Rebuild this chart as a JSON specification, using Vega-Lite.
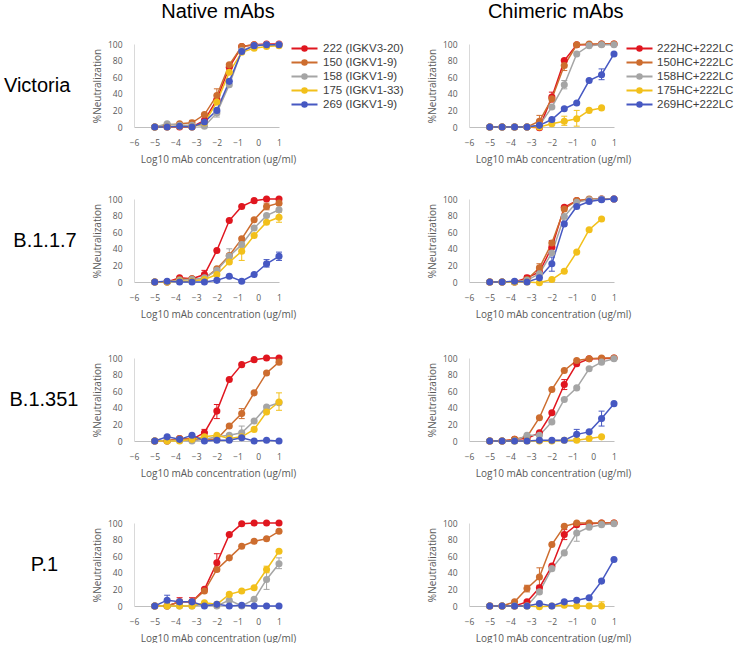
{
"$schema":"https://vega.github.io/schema/vega-lite/v6.json",
"background":"white",
"padding":{"left":3,"top":2,"right":0,"bottom":0},
"config":{
 "view":{"stroke":null},
 "axis":{"labelFont":"Open Sans","labelFontSize":8.5,"labelColor":"#595959","titleFont":"Open Sans","titleFontSize":10,"titleFontWeight":"normal","titleColor":"#595959","ticks":false,"tickSize":0,"grid":false,"labelFlush":false,"labelOverlap":false},
 "axisX":{"domainColor":"#bfbfbf","labelPadding":11.5,"titlePadding":7,"titleX":84},
 "axisY":{"domainColor":"#d9d9d9","labelPadding":12,"titlePadding":5},
 "title":{"font":"Liberation Sans","fontSize":20,"fontWeight":"normal","color":"#000000"}
},
"datasets":{
"pts":[
{"panel":"NV","mab":"222","x":-5,"y":0},{"panel":"NV","mab":"222","x":-4.4,"y":0},{"panel":"NV","mab":"222","x":-3.8,"y":0},{"panel":"NV","mab":"222","x":-3.2,"y":0},{"panel":"NV","mab":"222","x":-2.6,"y":8},{"panel":"NV","mab":"222","x":-2,"y":33},{"panel":"NV","mab":"222","x":-1.4,"y":72},{"panel":"NV","mab":"222","x":-0.8,"y":97},{"panel":"NV","mab":"222","x":-0.2,"y":99},{"panel":"NV","mab":"222","x":0.4,"y":100},{"panel":"NV","mab":"222","x":1,"y":100},
{"panel":"NV","mab":"150","x":-5,"y":0},{"panel":"NV","mab":"150","x":-4.4,"y":2},{"panel":"NV","mab":"150","x":-3.8,"y":4},{"panel":"NV","mab":"150","x":-3.2,"y":5},{"panel":"NV","mab":"150","x":-2.6,"y":15},{"panel":"NV","mab":"150","x":-2,"y":38},{"panel":"NV","mab":"150","x":-1.4,"y":75},{"panel":"NV","mab":"150","x":-0.8,"y":97},{"panel":"NV","mab":"150","x":-0.2,"y":99},{"panel":"NV","mab":"150","x":0.4,"y":99},{"panel":"NV","mab":"150","x":1,"y":99},
{"panel":"NV","mab":"158","x":-5,"y":0},{"panel":"NV","mab":"158","x":-4.4,"y":4},{"panel":"NV","mab":"158","x":-3.8,"y":2},{"panel":"NV","mab":"158","x":-3.2,"y":2},{"panel":"NV","mab":"158","x":-2.6,"y":1},{"panel":"NV","mab":"158","x":-2,"y":17},{"panel":"NV","mab":"158","x":-1.4,"y":51},{"panel":"NV","mab":"158","x":-0.8,"y":92},{"panel":"NV","mab":"158","x":-0.2,"y":98},{"panel":"NV","mab":"158","x":0.4,"y":99},{"panel":"NV","mab":"158","x":1,"y":99},
{"panel":"NV","mab":"175","x":-5,"y":0},{"panel":"NV","mab":"175","x":-4.4,"y":0},{"panel":"NV","mab":"175","x":-3.8,"y":1},{"panel":"NV","mab":"175","x":-3.2,"y":0},{"panel":"NV","mab":"175","x":-2.6,"y":5},{"panel":"NV","mab":"175","x":-2,"y":30},{"panel":"NV","mab":"175","x":-1.4,"y":66},{"panel":"NV","mab":"175","x":-0.8,"y":90},{"panel":"NV","mab":"175","x":-0.2,"y":95},{"panel":"NV","mab":"175","x":0.4,"y":97},{"panel":"NV","mab":"175","x":1,"y":98},
{"panel":"NV","mab":"269","x":-5,"y":0},{"panel":"NV","mab":"269","x":-4.4,"y":0},{"panel":"NV","mab":"269","x":-3.8,"y":1},{"panel":"NV","mab":"269","x":-3.2,"y":0},{"panel":"NV","mab":"269","x":-2.6,"y":6},{"panel":"NV","mab":"269","x":-2,"y":20},{"panel":"NV","mab":"269","x":-1.4,"y":55},{"panel":"NV","mab":"269","x":-0.8,"y":91},{"panel":"NV","mab":"269","x":-0.2,"y":98},{"panel":"NV","mab":"269","x":0.4,"y":99},{"panel":"NV","mab":"269","x":1,"y":99},

{"panel":"CV","mab":"222","x":-5,"y":0},{"panel":"CV","mab":"222","x":-4.4,"y":0},{"panel":"CV","mab":"222","x":-3.8,"y":0},{"panel":"CV","mab":"222","x":-3.2,"y":0},{"panel":"CV","mab":"222","x":-2.6,"y":-1},{"panel":"CV","mab":"222","x":-2,"y":36},{"panel":"CV","mab":"222","x":-1.4,"y":80},{"panel":"CV","mab":"222","x":-0.8,"y":99},{"panel":"CV","mab":"222","x":-0.2,"y":99},{"panel":"CV","mab":"222","x":0.4,"y":100},{"panel":"CV","mab":"222","x":1,"y":100},
{"panel":"CV","mab":"150","x":-5,"y":0},{"panel":"CV","mab":"150","x":-4.4,"y":0},{"panel":"CV","mab":"150","x":-3.8,"y":0},{"panel":"CV","mab":"150","x":-3.2,"y":0},{"panel":"CV","mab":"150","x":-2.6,"y":7},{"panel":"CV","mab":"150","x":-2,"y":34},{"panel":"CV","mab":"150","x":-1.4,"y":74},{"panel":"CV","mab":"150","x":-0.8,"y":99},{"panel":"CV","mab":"150","x":-0.2,"y":100},{"panel":"CV","mab":"150","x":0.4,"y":100},{"panel":"CV","mab":"150","x":1,"y":100},
{"panel":"CV","mab":"158","x":-5,"y":0},{"panel":"CV","mab":"158","x":-4.4,"y":0},{"panel":"CV","mab":"158","x":-3.8,"y":0},{"panel":"CV","mab":"158","x":-3.2,"y":0},{"panel":"CV","mab":"158","x":-2.6,"y":2},{"panel":"CV","mab":"158","x":-2,"y":24},{"panel":"CV","mab":"158","x":-1.4,"y":51},{"panel":"CV","mab":"158","x":-0.8,"y":88},{"panel":"CV","mab":"158","x":-0.2,"y":98},{"panel":"CV","mab":"158","x":0.4,"y":99},{"panel":"CV","mab":"158","x":1,"y":99},
{"panel":"CV","mab":"175","x":-5,"y":0},{"panel":"CV","mab":"175","x":-4.4,"y":0},{"panel":"CV","mab":"175","x":-3.8,"y":0},{"panel":"CV","mab":"175","x":-3.2,"y":0},{"panel":"CV","mab":"175","x":-2.6,"y":0},{"panel":"CV","mab":"175","x":-2,"y":4},{"panel":"CV","mab":"175","x":-1.4,"y":7},{"panel":"CV","mab":"175","x":-0.8,"y":10},{"panel":"CV","mab":"175","x":-0.2,"y":20},{"panel":"CV","mab":"175","x":0.4,"y":23},
{"panel":"CV","mab":"269","x":-5,"y":0},{"panel":"CV","mab":"269","x":-4.4,"y":0},{"panel":"CV","mab":"269","x":-3.8,"y":0},{"panel":"CV","mab":"269","x":-3.2,"y":0},{"panel":"CV","mab":"269","x":-2.6,"y":2},{"panel":"CV","mab":"269","x":-2,"y":9},{"panel":"CV","mab":"269","x":-1.4,"y":22},{"panel":"CV","mab":"269","x":-0.8,"y":29},{"panel":"CV","mab":"269","x":-0.2,"y":56},{"panel":"CV","mab":"269","x":0.4,"y":63},{"panel":"CV","mab":"269","x":1,"y":88},

{"panel":"NB7","mab":"222","x":-5,"y":0},{"panel":"NB7","mab":"222","x":-4.4,"y":0},{"panel":"NB7","mab":"222","x":-3.8,"y":5},{"panel":"NB7","mab":"222","x":-3.2,"y":4},{"panel":"NB7","mab":"222","x":-2.6,"y":9},{"panel":"NB7","mab":"222","x":-2,"y":38},{"panel":"NB7","mab":"222","x":-1.4,"y":74},{"panel":"NB7","mab":"222","x":-0.8,"y":91},{"panel":"NB7","mab":"222","x":-0.2,"y":98},{"panel":"NB7","mab":"222","x":0.4,"y":100},{"panel":"NB7","mab":"222","x":1,"y":100},
{"panel":"NB7","mab":"150","x":-5,"y":0},{"panel":"NB7","mab":"150","x":-4.4,"y":0},{"panel":"NB7","mab":"150","x":-3.8,"y":3},{"panel":"NB7","mab":"150","x":-3.2,"y":4},{"panel":"NB7","mab":"150","x":-2.6,"y":4},{"panel":"NB7","mab":"150","x":-2,"y":16},{"panel":"NB7","mab":"150","x":-1.4,"y":32},{"panel":"NB7","mab":"150","x":-0.8,"y":52},{"panel":"NB7","mab":"150","x":-0.2,"y":75},{"panel":"NB7","mab":"150","x":0.4,"y":91},{"panel":"NB7","mab":"150","x":1,"y":95},
{"panel":"NB7","mab":"158","x":-5,"y":0},{"panel":"NB7","mab":"158","x":-4.4,"y":0},{"panel":"NB7","mab":"158","x":-3.8,"y":2},{"panel":"NB7","mab":"158","x":-3.2,"y":3},{"panel":"NB7","mab":"158","x":-2.6,"y":5},{"panel":"NB7","mab":"158","x":-2,"y":14},{"panel":"NB7","mab":"158","x":-1.4,"y":31},{"panel":"NB7","mab":"158","x":-0.8,"y":45},{"panel":"NB7","mab":"158","x":-0.2,"y":65},{"panel":"NB7","mab":"158","x":0.4,"y":80},{"panel":"NB7","mab":"158","x":1,"y":87},
{"panel":"NB7","mab":"175","x":-5,"y":0},{"panel":"NB7","mab":"175","x":-4.4,"y":0},{"panel":"NB7","mab":"175","x":-3.8,"y":1},{"panel":"NB7","mab":"175","x":-3.2,"y":1},{"panel":"NB7","mab":"175","x":-2.6,"y":3},{"panel":"NB7","mab":"175","x":-2,"y":9},{"panel":"NB7","mab":"175","x":-1.4,"y":24},{"panel":"NB7","mab":"175","x":-0.8,"y":37},{"panel":"NB7","mab":"175","x":-0.2,"y":56},{"panel":"NB7","mab":"175","x":0.4,"y":72},{"panel":"NB7","mab":"175","x":1,"y":78},
{"panel":"NB7","mab":"269","x":-5,"y":0},{"panel":"NB7","mab":"269","x":-4.4,"y":1},{"panel":"NB7","mab":"269","x":-3.8,"y":0},{"panel":"NB7","mab":"269","x":-3.2,"y":0},{"panel":"NB7","mab":"269","x":-2.6,"y":0},{"panel":"NB7","mab":"269","x":-2,"y":2},{"panel":"NB7","mab":"269","x":-1.4,"y":7},{"panel":"NB7","mab":"269","x":-0.8,"y":1},{"panel":"NB7","mab":"269","x":-0.2,"y":9},{"panel":"NB7","mab":"269","x":0.4,"y":22},{"panel":"NB7","mab":"269","x":1,"y":31},

{"panel":"CB7","mab":"222","x":-5,"y":0},{"panel":"CB7","mab":"222","x":-4.4,"y":0},{"panel":"CB7","mab":"222","x":-3.8,"y":0},{"panel":"CB7","mab":"222","x":-3.2,"y":5},{"panel":"CB7","mab":"222","x":-2.6,"y":12},{"panel":"CB7","mab":"222","x":-2,"y":42},{"panel":"CB7","mab":"222","x":-1.4,"y":90},{"panel":"CB7","mab":"222","x":-0.8,"y":98},{"panel":"CB7","mab":"222","x":-0.2,"y":99},{"panel":"CB7","mab":"222","x":0.4,"y":100},{"panel":"CB7","mab":"222","x":1,"y":100},
{"panel":"CB7","mab":"150","x":-5,"y":0},{"panel":"CB7","mab":"150","x":-4.4,"y":0},{"panel":"CB7","mab":"150","x":-3.8,"y":0},{"panel":"CB7","mab":"150","x":-3.2,"y":3},{"panel":"CB7","mab":"150","x":-2.6,"y":17},{"panel":"CB7","mab":"150","x":-2,"y":47},{"panel":"CB7","mab":"150","x":-1.4,"y":88},{"panel":"CB7","mab":"150","x":-0.8,"y":98},{"panel":"CB7","mab":"150","x":-0.2,"y":100},{"panel":"CB7","mab":"150","x":0.4,"y":100},{"panel":"CB7","mab":"150","x":1,"y":100},
{"panel":"CB7","mab":"158","x":-5,"y":0},{"panel":"CB7","mab":"158","x":-4.4,"y":0},{"panel":"CB7","mab":"158","x":-3.8,"y":0},{"panel":"CB7","mab":"158","x":-3.2,"y":2},{"panel":"CB7","mab":"158","x":-2.6,"y":10},{"panel":"CB7","mab":"158","x":-2,"y":35},{"panel":"CB7","mab":"158","x":-1.4,"y":79},{"panel":"CB7","mab":"158","x":-0.8,"y":96},{"panel":"CB7","mab":"158","x":-0.2,"y":99},{"panel":"CB7","mab":"158","x":0.4,"y":100},{"panel":"CB7","mab":"158","x":1,"y":100},
{"panel":"CB7","mab":"175","x":-5,"y":0},{"panel":"CB7","mab":"175","x":-4.4,"y":0},{"panel":"CB7","mab":"175","x":-3.8,"y":0},{"panel":"CB7","mab":"175","x":-3.2,"y":0},{"panel":"CB7","mab":"175","x":-2.6,"y":-1},{"panel":"CB7","mab":"175","x":-2,"y":3},{"panel":"CB7","mab":"175","x":-1.4,"y":13},{"panel":"CB7","mab":"175","x":-0.8,"y":36},{"panel":"CB7","mab":"175","x":-0.2,"y":63},{"panel":"CB7","mab":"175","x":0.4,"y":76},
{"panel":"CB7","mab":"269","x":-5,"y":0},{"panel":"CB7","mab":"269","x":-4.4,"y":0},{"panel":"CB7","mab":"269","x":-3.8,"y":1},{"panel":"CB7","mab":"269","x":-3.2,"y":0},{"panel":"CB7","mab":"269","x":-2.6,"y":5},{"panel":"CB7","mab":"269","x":-2,"y":22},{"panel":"CB7","mab":"269","x":-1.4,"y":70},{"panel":"CB7","mab":"269","x":-0.8,"y":91},{"panel":"CB7","mab":"269","x":-0.2,"y":97},{"panel":"CB7","mab":"269","x":0.4,"y":99},{"panel":"CB7","mab":"269","x":1,"y":100},

{"panel":"NB3","mab":"222","x":-5,"y":0},{"panel":"NB3","mab":"222","x":-4.4,"y":0},{"panel":"NB3","mab":"222","x":-3.8,"y":3},{"panel":"NB3","mab":"222","x":-3.2,"y":2},{"panel":"NB3","mab":"222","x":-2.6,"y":10},{"panel":"NB3","mab":"222","x":-2,"y":36},{"panel":"NB3","mab":"222","x":-1.4,"y":74},{"panel":"NB3","mab":"222","x":-0.8,"y":92},{"panel":"NB3","mab":"222","x":-0.2,"y":98},{"panel":"NB3","mab":"222","x":0.4,"y":100},{"panel":"NB3","mab":"222","x":1,"y":100},
{"panel":"NB3","mab":"150","x":-5,"y":0},{"panel":"NB3","mab":"150","x":-4.4,"y":0},{"panel":"NB3","mab":"150","x":-3.8,"y":3},{"panel":"NB3","mab":"150","x":-3.2,"y":2},{"panel":"NB3","mab":"150","x":-2.6,"y":2},{"panel":"NB3","mab":"150","x":-2,"y":2},{"panel":"NB3","mab":"150","x":-1.4,"y":18},{"panel":"NB3","mab":"150","x":-0.8,"y":33},{"panel":"NB3","mab":"150","x":-0.2,"y":58},{"panel":"NB3","mab":"150","x":0.4,"y":82},{"panel":"NB3","mab":"150","x":1,"y":95},
{"panel":"NB3","mab":"158","x":-5,"y":0},{"panel":"NB3","mab":"158","x":-4.4,"y":0},{"panel":"NB3","mab":"158","x":-3.8,"y":1},{"panel":"NB3","mab":"158","x":-3.2,"y":0},{"panel":"NB3","mab":"158","x":-2.6,"y":2},{"panel":"NB3","mab":"158","x":-2,"y":5},{"panel":"NB3","mab":"158","x":-1.4,"y":7},{"panel":"NB3","mab":"158","x":-0.8,"y":10},{"panel":"NB3","mab":"158","x":-0.2,"y":24},{"panel":"NB3","mab":"158","x":0.4,"y":41},{"panel":"NB3","mab":"158","x":1,"y":46},
{"panel":"NB3","mab":"175","x":-5,"y":0},{"panel":"NB3","mab":"175","x":-4.4,"y":0},{"panel":"NB3","mab":"175","x":-3.8,"y":0},{"panel":"NB3","mab":"175","x":-3.2,"y":2},{"panel":"NB3","mab":"175","x":-2.6,"y":5},{"panel":"NB3","mab":"175","x":-2,"y":7},{"panel":"NB3","mab":"175","x":-1.4,"y":3},{"panel":"NB3","mab":"175","x":-0.8,"y":5},{"panel":"NB3","mab":"175","x":-0.2,"y":14},{"panel":"NB3","mab":"175","x":0.4,"y":35},{"panel":"NB3","mab":"175","x":1,"y":47},
{"panel":"NB3","mab":"269","x":-5,"y":0},{"panel":"NB3","mab":"269","x":-4.4,"y":5},{"panel":"NB3","mab":"269","x":-3.8,"y":2},{"panel":"NB3","mab":"269","x":-3.2,"y":7},{"panel":"NB3","mab":"269","x":-2.6,"y":0},{"panel":"NB3","mab":"269","x":-2,"y":1},{"panel":"NB3","mab":"269","x":-1.4,"y":1},{"panel":"NB3","mab":"269","x":-0.8,"y":4},{"panel":"NB3","mab":"269","x":-0.2,"y":0},{"panel":"NB3","mab":"269","x":0.4,"y":1},{"panel":"NB3","mab":"269","x":1,"y":0},

{"panel":"CB3","mab":"222","x":-5,"y":0},{"panel":"CB3","mab":"222","x":-4.4,"y":0},{"panel":"CB3","mab":"222","x":-3.8,"y":2},{"panel":"CB3","mab":"222","x":-3.2,"y":3},{"panel":"CB3","mab":"222","x":-2.6,"y":10},{"panel":"CB3","mab":"222","x":-2,"y":34},{"panel":"CB3","mab":"222","x":-1.4,"y":68},{"panel":"CB3","mab":"222","x":-0.8,"y":93},{"panel":"CB3","mab":"222","x":-0.2,"y":99},{"panel":"CB3","mab":"222","x":0.4,"y":99},{"panel":"CB3","mab":"222","x":1,"y":100},
{"panel":"CB3","mab":"150","x":-5,"y":0},{"panel":"CB3","mab":"150","x":-4.4,"y":0},{"panel":"CB3","mab":"150","x":-3.8,"y":2},{"panel":"CB3","mab":"150","x":-3.2,"y":5},{"panel":"CB3","mab":"150","x":-2.6,"y":28},{"panel":"CB3","mab":"150","x":-2,"y":62},{"panel":"CB3","mab":"150","x":-1.4,"y":85},{"panel":"CB3","mab":"150","x":-0.8,"y":97},{"panel":"CB3","mab":"150","x":-0.2,"y":99},{"panel":"CB3","mab":"150","x":0.4,"y":100},{"panel":"CB3","mab":"150","x":1,"y":100},
{"panel":"CB3","mab":"158","x":-5,"y":0},{"panel":"CB3","mab":"158","x":-4.4,"y":0},{"panel":"CB3","mab":"158","x":-3.8,"y":0},{"panel":"CB3","mab":"158","x":-3.2,"y":7},{"panel":"CB3","mab":"158","x":-2.6,"y":7},{"panel":"CB3","mab":"158","x":-2,"y":23},{"panel":"CB3","mab":"158","x":-1.4,"y":50},{"panel":"CB3","mab":"158","x":-0.8,"y":64},{"panel":"CB3","mab":"158","x":-0.2,"y":87},{"panel":"CB3","mab":"158","x":0.4,"y":95},{"panel":"CB3","mab":"158","x":1,"y":99},
{"panel":"CB3","mab":"175","x":-5,"y":0},{"panel":"CB3","mab":"175","x":-4.4,"y":0},{"panel":"CB3","mab":"175","x":-3.8,"y":0},{"panel":"CB3","mab":"175","x":-3.2,"y":0},{"panel":"CB3","mab":"175","x":-2.6,"y":0},{"panel":"CB3","mab":"175","x":-2,"y":0},{"panel":"CB3","mab":"175","x":-1.4,"y":1},{"panel":"CB3","mab":"175","x":-0.8,"y":1},{"panel":"CB3","mab":"175","x":-0.2,"y":3},{"panel":"CB3","mab":"175","x":0.4,"y":5},
{"panel":"CB3","mab":"269","x":-5,"y":0},{"panel":"CB3","mab":"269","x":-4.4,"y":0},{"panel":"CB3","mab":"269","x":-3.8,"y":0},{"panel":"CB3","mab":"269","x":-3.2,"y":0},{"panel":"CB3","mab":"269","x":-2.6,"y":1},{"panel":"CB3","mab":"269","x":-2,"y":1},{"panel":"CB3","mab":"269","x":-1.4,"y":1},{"panel":"CB3","mab":"269","x":-0.8,"y":8},{"panel":"CB3","mab":"269","x":-0.2,"y":11},{"panel":"CB3","mab":"269","x":0.4,"y":27},{"panel":"CB3","mab":"269","x":1,"y":45},

{"panel":"NP","mab":"222","x":-5,"y":0},{"panel":"NP","mab":"222","x":-4.4,"y":0},{"panel":"NP","mab":"222","x":-3.8,"y":5},{"panel":"NP","mab":"222","x":-3.2,"y":5},{"panel":"NP","mab":"222","x":-2.6,"y":20},{"panel":"NP","mab":"222","x":-2,"y":52},{"panel":"NP","mab":"222","x":-1.4,"y":86},{"panel":"NP","mab":"222","x":-0.8,"y":99},{"panel":"NP","mab":"222","x":-0.2,"y":100},{"panel":"NP","mab":"222","x":0.4,"y":100},{"panel":"NP","mab":"222","x":1,"y":100},
{"panel":"NP","mab":"150","x":-5,"y":0},{"panel":"NP","mab":"150","x":-4.4,"y":0},{"panel":"NP","mab":"150","x":-3.8,"y":5},{"panel":"NP","mab":"150","x":-3.2,"y":5},{"panel":"NP","mab":"150","x":-2.6,"y":18},{"panel":"NP","mab":"150","x":-2,"y":44},{"panel":"NP","mab":"150","x":-1.4,"y":58},{"panel":"NP","mab":"150","x":-0.8,"y":72},{"panel":"NP","mab":"150","x":-0.2,"y":78},{"panel":"NP","mab":"150","x":0.4,"y":81},{"panel":"NP","mab":"150","x":1,"y":90},
{"panel":"NP","mab":"158","x":-5,"y":0},{"panel":"NP","mab":"158","x":-4.4,"y":0},{"panel":"NP","mab":"158","x":-3.8,"y":0},{"panel":"NP","mab":"158","x":-3.2,"y":0},{"panel":"NP","mab":"158","x":-2.6,"y":2},{"panel":"NP","mab":"158","x":-2,"y":0},{"panel":"NP","mab":"158","x":-1.4,"y":7},{"panel":"NP","mab":"158","x":-0.8,"y":0},{"panel":"NP","mab":"158","x":-0.2,"y":8},{"panel":"NP","mab":"158","x":0.4,"y":32},{"panel":"NP","mab":"158","x":1,"y":51},
{"panel":"NP","mab":"175","x":-5,"y":0},{"panel":"NP","mab":"175","x":-4.4,"y":0},{"panel":"NP","mab":"175","x":-3.8,"y":0},{"panel":"NP","mab":"175","x":-3.2,"y":0},{"panel":"NP","mab":"175","x":-2.6,"y":4},{"panel":"NP","mab":"175","x":-2,"y":2},{"panel":"NP","mab":"175","x":-1.4,"y":14},{"panel":"NP","mab":"175","x":-0.8,"y":18},{"panel":"NP","mab":"175","x":-0.2,"y":22},{"panel":"NP","mab":"175","x":0.4,"y":44},{"panel":"NP","mab":"175","x":1,"y":66},
{"panel":"NP","mab":"269","x":-5,"y":0},{"panel":"NP","mab":"269","x":-4.4,"y":7},{"panel":"NP","mab":"269","x":-3.8,"y":5},{"panel":"NP","mab":"269","x":-3.2,"y":5},{"panel":"NP","mab":"269","x":-2.6,"y":0},{"panel":"NP","mab":"269","x":-2,"y":2},{"panel":"NP","mab":"269","x":-1.4,"y":0},{"panel":"NP","mab":"269","x":-0.8,"y":1},{"panel":"NP","mab":"269","x":-0.2,"y":0},{"panel":"NP","mab":"269","x":0.4,"y":0},{"panel":"NP","mab":"269","x":1,"y":0},

{"panel":"CP","mab":"222","x":-5,"y":0},{"panel":"CP","mab":"222","x":-4.4,"y":0},{"panel":"CP","mab":"222","x":-3.8,"y":0},{"panel":"CP","mab":"222","x":-3.2,"y":5},{"panel":"CP","mab":"222","x":-2.6,"y":22},{"panel":"CP","mab":"222","x":-2,"y":48},{"panel":"CP","mab":"222","x":-1.4,"y":86},{"panel":"CP","mab":"222","x":-0.8,"y":98},{"panel":"CP","mab":"222","x":-0.2,"y":99},{"panel":"CP","mab":"222","x":0.4,"y":100},{"panel":"CP","mab":"222","x":1,"y":100},
{"panel":"CP","mab":"150","x":-5,"y":0},{"panel":"CP","mab":"150","x":-4.4,"y":0},{"panel":"CP","mab":"150","x":-3.8,"y":5},{"panel":"CP","mab":"150","x":-3.2,"y":21},{"panel":"CP","mab":"150","x":-2.6,"y":35},{"panel":"CP","mab":"150","x":-2,"y":74},{"panel":"CP","mab":"150","x":-1.4,"y":96},{"panel":"CP","mab":"150","x":-0.8,"y":100},{"panel":"CP","mab":"150","x":-0.2,"y":100},{"panel":"CP","mab":"150","x":0.4,"y":100},{"panel":"CP","mab":"150","x":1,"y":100},
{"panel":"CP","mab":"158","x":-5,"y":0},{"panel":"CP","mab":"158","x":-4.4,"y":0},{"panel":"CP","mab":"158","x":-3.8,"y":0},{"panel":"CP","mab":"158","x":-3.2,"y":0},{"panel":"CP","mab":"158","x":-2.6,"y":17},{"panel":"CP","mab":"158","x":-2,"y":45},{"panel":"CP","mab":"158","x":-1.4,"y":64},{"panel":"CP","mab":"158","x":-0.8,"y":88},{"panel":"CP","mab":"158","x":-0.2,"y":95},{"panel":"CP","mab":"158","x":0.4,"y":98},{"panel":"CP","mab":"158","x":1,"y":99},
{"panel":"CP","mab":"175","x":-5,"y":0},{"panel":"CP","mab":"175","x":-4.4,"y":0},{"panel":"CP","mab":"175","x":-3.8,"y":0},{"panel":"CP","mab":"175","x":-3.2,"y":0},{"panel":"CP","mab":"175","x":-2.6,"y":-1},{"panel":"CP","mab":"175","x":-2,"y":0},{"panel":"CP","mab":"175","x":-1.4,"y":1},{"panel":"CP","mab":"175","x":-0.8,"y":0},{"panel":"CP","mab":"175","x":-0.2,"y":0},{"panel":"CP","mab":"175","x":0.4,"y":0},
{"panel":"CP","mab":"269","x":-5,"y":0},{"panel":"CP","mab":"269","x":-4.4,"y":0},{"panel":"CP","mab":"269","x":-3.8,"y":0},{"panel":"CP","mab":"269","x":-3.2,"y":0},{"panel":"CP","mab":"269","x":-2.6,"y":3},{"panel":"CP","mab":"269","x":-2,"y":0},{"panel":"CP","mab":"269","x":-1.4,"y":5},{"panel":"CP","mab":"269","x":-0.8,"y":7},{"panel":"CP","mab":"269","x":-0.2,"y":10},{"panel":"CP","mab":"269","x":0.4,"y":30},{"panel":"CP","mab":"269","x":1,"y":56}
],
"errs":[
{"panel":"NV","mab":"150","x":-2,"lo":30,"hi":46},{"panel":"NV","mab":"150","x":-3.2,"lo":2,"hi":8},{"panel":"NV","mab":"158","x":-2,"lo":12,"hi":22},
{"panel":"CV","mab":"150","x":-2.6,"lo":1,"hi":14},{"panel":"CV","mab":"222","x":-2,"lo":30,"hi":42},{"panel":"CV","mab":"158","x":-1.4,"lo":46,"hi":56},{"panel":"CV","mab":"175","x":-1.4,"lo":2,"hi":13},{"panel":"CV","mab":"175","x":-0.8,"lo":1,"hi":20},{"panel":"CV","mab":"269","x":0.4,"lo":57,"hi":70},{"panel":"CV","mab":"150","x":-1.4,"lo":68,"hi":80},
{"panel":"NB7","mab":"222","x":-2.6,"lo":4,"hi":14},{"panel":"NB7","mab":"158","x":-1.4,"lo":25,"hi":40},{"panel":"NB7","mab":"175","x":-0.8,"lo":26,"hi":47},{"panel":"NB7","mab":"269","x":0.4,"lo":18,"hi":27},{"panel":"NB7","mab":"269","x":1,"lo":26,"hi":36},{"panel":"NB7","mab":"175","x":1,"lo":72,"hi":84},{"panel":"NB7","mab":"150","x":0.4,"lo":87,"hi":95},
{"panel":"CB7","mab":"222","x":-3.2,"lo":2,"hi":8},{"panel":"CB7","mab":"150","x":-2.6,"lo":12,"hi":22},{"panel":"CB7","mab":"222","x":-2,"lo":36,"hi":50},{"panel":"CB7","mab":"269","x":-2,"lo":13,"hi":30},
{"panel":"NB3","mab":"222","x":-2,"lo":27,"hi":44},{"panel":"NB3","mab":"222","x":-2.6,"lo":5,"hi":14},{"panel":"NB3","mab":"150","x":-0.8,"lo":27,"hi":39},{"panel":"NB3","mab":"158","x":-0.8,"lo":3,"hi":18},{"panel":"NB3","mab":"175","x":1,"lo":37,"hi":58},
{"panel":"CB3","mab":"222","x":-1.4,"lo":62,"hi":74},{"panel":"CB3","mab":"269","x":-0.8,"lo":3,"hi":14},{"panel":"CB3","mab":"269","x":0.4,"lo":18,"hi":36},
{"panel":"NP","mab":"222","x":-2,"lo":42,"hi":63},{"panel":"NP","mab":"222","x":-3.8,"lo":1,"hi":10},{"panel":"NP","mab":"222","x":-3.2,"lo":1,"hi":10},{"panel":"NP","mab":"269","x":-4.4,"lo":1,"hi":13},{"panel":"NP","mab":"158","x":0.4,"lo":20,"hi":44},{"panel":"NP","mab":"158","x":1,"lo":45,"hi":58},{"panel":"NP","mab":"175","x":0.4,"lo":40,"hi":48},
{"panel":"CP","mab":"150","x":-2.6,"lo":25,"hi":46},{"panel":"CP","mab":"150","x":-3.2,"lo":17,"hi":25},{"panel":"CP","mab":"222","x":-1.4,"lo":80,"hi":92},{"panel":"CP","mab":"158","x":-0.8,"lo":78,"hi":100},{"panel":"CP","mab":"175","x":0.4,"lo":0,"hi":5}
]
},
"spacing":23,
"resolve":{"scale":{"color":"independent"},"legend":{"color":"independent"}},
"hconcat":[
{
"title":{"text":"Native mAbs","anchor":"middle","offset":18,"dx":14},
"spacing":35,
"resolve":{"scale":{"color":"independent"},"legend":{"color":"independent"}},
"vconcat":[
{"spacing":31,"resolve":{"scale":{"color":"independent"},"legend":{"color":"independent"}},"vconcat":[
{"width":145,"height":83,
"title":{"text":"Victoria","orient":"left","angle":0,"align":"center","baseline":"middle","anchor":"middle","offset":-11},
"encoding":{
"x":{"field":"x","type":"quantitative","scale":{"domain":[-6,1],"nice":false},"axis":{"values":[-6,-5,-4,-3,-2,-1,0,1],"title":"Log10 mAb concentration (ug/ml)"}},
"y":{"field":"y","type":"quantitative","scale":{"domain":[0,100],"nice":false},"axis":{"values":[0,20,40,60,80,100],"title":"%Neutralization"}},
"color":{"field":"mab","type":"nominal","scale":{"domain":["222","150","158","175","269"],"range":["#E0161F","#CD6D2F","#A5A5A5","#F2C01B","#4658C2"]},
"legend":{"title":null,"orient":"none","legendX":163,"legendY":-3,"padding":0,"labelFont":"Liberation Sans","labelFontSize":11.5,"labelColor":"#404040","symbolType":"M-2,0H2M-0.35,0A0.35,0.35,0,1,1,0.35,0A0.35,0.35,0,1,1,-0.35,0M-0.15,0A0.15,0.15,0,1,1,0.15,0A0.15,0.15,0,1,1,-0.15,0","symbolSize":169,"symbolStrokeWidth":2,"symbolOpacity":1,"rowPadding":0,"labelOffset":11,"labelExpr":"datum.label=='222'?'222 (IGKV3-20)':datum.label=='175'?'175 (IGKV1-33)':datum.label+' (IGKV1-9)'"}}
},
"layer":[
{"data":{"name":"errs"},"transform":[{"filter":"datum.panel=='NV'"}],"mark":{"type":"rule","strokeWidth":1},"encoding":{"y":{"field":"lo","type":"quantitative","scale":{"domain":[0,100],"nice":false}},"y2":{"field":"hi"}}},
{"data":{"name":"errs"},"transform":[{"filter":"datum.panel=='NV'"}],"mark":{"type":"tick","orient":"horizontal","size":6,"thickness":1,"opacity":1},"encoding":{"y":{"field":"hi","type":"quantitative","scale":{"domain":[0,100],"nice":false}}}},
{"data":{"name":"errs"},"transform":[{"filter":"datum.panel=='NV'"}],"mark":{"type":"tick","orient":"horizontal","size":6,"thickness":1,"opacity":1},"encoding":{"y":{"field":"lo","type":"quantitative","scale":{"domain":[0,100],"nice":false}}}},
{"data":{"name":"pts"},"transform":[{"filter":"datum.panel=='NV'"}],"mark":{"type":"line","strokeWidth":1.5},"encoding":{}},
{"data":{"name":"pts"},"transform":[{"filter":"datum.panel=='NV'"}],"mark":{"type":"point","filled":true,"size":50,"opacity":1},"encoding":{}}
]},
{"width":145,"height":83,
"title":{"text":"B.1.1.7","orient":"left","angle":0,"align":"center","baseline":"middle","anchor":"middle","offset":-16},
"encoding":{
"x":{"field":"x","type":"quantitative","scale":{"domain":[-6,1],"nice":false},"axis":{"values":[-6,-5,-4,-3,-2,-1,0,1],"title":"Log10 mAb concentration (ug/ml)"}},
"y":{"field":"y","type":"quantitative","scale":{"domain":[0,100],"nice":false},"axis":{"values":[0,20,40,60,80,100],"title":"%Neutralization"}},
"color":{"field":"mab","type":"nominal","scale":{"domain":["222","150","158","175","269"],"range":["#E0161F","#CD6D2F","#A5A5A5","#F2C01B","#4658C2"]},"legend":null}
},
"layer":[
{"data":{"name":"errs"},"transform":[{"filter":"datum.panel=='NB7'"}],"mark":{"type":"rule","strokeWidth":1},"encoding":{"y":{"field":"lo","type":"quantitative","scale":{"domain":[0,100],"nice":false}},"y2":{"field":"hi"}}},
{"data":{"name":"errs"},"transform":[{"filter":"datum.panel=='NB7'"}],"mark":{"type":"tick","orient":"horizontal","size":6,"thickness":1,"opacity":1},"encoding":{"y":{"field":"hi","type":"quantitative","scale":{"domain":[0,100],"nice":false}}}},
{"data":{"name":"errs"},"transform":[{"filter":"datum.panel=='NB7'"}],"mark":{"type":"tick","orient":"horizontal","size":6,"thickness":1,"opacity":1},"encoding":{"y":{"field":"lo","type":"quantitative","scale":{"domain":[0,100],"nice":false}}}},
{"data":{"name":"pts"},"transform":[{"filter":"datum.panel=='NB7'"}],"mark":{"type":"line","strokeWidth":1.5},"encoding":{}},
{"data":{"name":"pts"},"transform":[{"filter":"datum.panel=='NB7'"}],"mark":{"type":"point","filled":true,"size":50,"opacity":1},"encoding":{}}
]}
]},
{"spacing":41,"resolve":{"scale":{"color":"independent"},"legend":{"color":"independent"}},"vconcat":[
{"width":145,"height":83,
"title":{"text":"B.1.351","orient":"left","angle":0,"align":"center","baseline":"middle","anchor":"middle","offset":-20.5},
"encoding":{
"x":{"field":"x","type":"quantitative","scale":{"domain":[-6,1],"nice":false},"axis":{"values":[-6,-5,-4,-3,-2,-1,0,1],"title":"Log10 mAb concentration (ug/ml)"}},
"y":{"field":"y","type":"quantitative","scale":{"domain":[0,100],"nice":false},"axis":{"values":[0,20,40,60,80,100],"title":"%Neutralization"}},
"color":{"field":"mab","type":"nominal","scale":{"domain":["222","150","158","175","269"],"range":["#E0161F","#CD6D2F","#A5A5A5","#F2C01B","#4658C2"]},"legend":null}
},
"layer":[
{"data":{"name":"errs"},"transform":[{"filter":"datum.panel=='NB3'"}],"mark":{"type":"rule","strokeWidth":1},"encoding":{"y":{"field":"lo","type":"quantitative","scale":{"domain":[0,100],"nice":false}},"y2":{"field":"hi"}}},
{"data":{"name":"errs"},"transform":[{"filter":"datum.panel=='NB3'"}],"mark":{"type":"tick","orient":"horizontal","size":6,"thickness":1,"opacity":1},"encoding":{"y":{"field":"hi","type":"quantitative","scale":{"domain":[0,100],"nice":false}}}},
{"data":{"name":"errs"},"transform":[{"filter":"datum.panel=='NB3'"}],"mark":{"type":"tick","orient":"horizontal","size":6,"thickness":1,"opacity":1},"encoding":{"y":{"field":"lo","type":"quantitative","scale":{"domain":[0,100],"nice":false}}}},
{"data":{"name":"pts"},"transform":[{"filter":"datum.panel=='NB3'"}],"mark":{"type":"line","strokeWidth":1.5},"encoding":{}},
{"data":{"name":"pts"},"transform":[{"filter":"datum.panel=='NB3'"}],"mark":{"type":"point","filled":true,"size":50,"opacity":1},"encoding":{}}
]},
{"width":145,"height":83,
"title":{"text":"P.1","orient":"left","angle":0,"align":"center","baseline":"middle","anchor":"middle","offset":20.5},
"encoding":{
"x":{"field":"x","type":"quantitative","scale":{"domain":[-6,1],"nice":false},"axis":{"values":[-6,-5,-4,-3,-2,-1,0,1],"title":"Log10 mAb concentration (ug/ml)"}},
"y":{"field":"y","type":"quantitative","scale":{"domain":[0,100],"nice":false},"axis":{"values":[0,20,40,60,80,100],"title":"%Neutralization"}},
"color":{"field":"mab","type":"nominal","scale":{"domain":["222","150","158","175","269"],"range":["#E0161F","#CD6D2F","#A5A5A5","#F2C01B","#4658C2"]},"legend":null}
},
"layer":[
{"data":{"name":"errs"},"transform":[{"filter":"datum.panel=='NP'"}],"mark":{"type":"rule","strokeWidth":1},"encoding":{"y":{"field":"lo","type":"quantitative","scale":{"domain":[0,100],"nice":false}},"y2":{"field":"hi"}}},
{"data":{"name":"errs"},"transform":[{"filter":"datum.panel=='NP'"}],"mark":{"type":"tick","orient":"horizontal","size":6,"thickness":1,"opacity":1},"encoding":{"y":{"field":"hi","type":"quantitative","scale":{"domain":[0,100],"nice":false}}}},
{"data":{"name":"errs"},"transform":[{"filter":"datum.panel=='NP'"}],"mark":{"type":"tick","orient":"horizontal","size":6,"thickness":1,"opacity":1},"encoding":{"y":{"field":"lo","type":"quantitative","scale":{"domain":[0,100],"nice":false}}}},
{"data":{"name":"pts"},"transform":[{"filter":"datum.panel=='NP'"}],"mark":{"type":"line","strokeWidth":1.5},"encoding":{}},
{"data":{"name":"pts"},"transform":[{"filter":"datum.panel=='NP'"}],"mark":{"type":"point","filled":true,"size":50,"opacity":1},"encoding":{}}
]}
]}
]
},
{
"title":{"text":"Chimeric mAbs","anchor":"middle","offset":18,"dx":-25},
"spacing":35,
"resolve":{"scale":{"color":"independent"},"legend":{"color":"independent"}},
"vconcat":[
{"spacing":31,"resolve":{"scale":{"color":"independent"},"legend":{"color":"independent"}},"vconcat":[
{"width":145,"height":83,
"encoding":{
"x":{"field":"x","type":"quantitative","scale":{"domain":[-6,1],"nice":false},"axis":{"values":[-6,-5,-4,-3,-2,-1,0,1],"title":"Log10 mAb concentration (ug/ml)"}},
"y":{"field":"y","type":"quantitative","scale":{"domain":[0,100],"nice":false},"axis":{"values":[0,20,40,60,80,100],"title":"%Neutralization"}},
"color":{"field":"mab","type":"nominal","scale":{"domain":["222","150","158","175","269"],"range":["#E0161F","#CD6D2F","#A5A5A5","#F2C01B","#4658C2"]},
"legend":{"title":null,"orient":"none","legendX":163,"legendY":-3,"padding":0,"labelFont":"Liberation Sans","labelFontSize":11.5,"labelColor":"#404040","symbolType":"M-2,0H2M-0.35,0A0.35,0.35,0,1,1,0.35,0A0.35,0.35,0,1,1,-0.35,0M-0.15,0A0.15,0.15,0,1,1,0.15,0A0.15,0.15,0,1,1,-0.15,0","symbolSize":169,"symbolStrokeWidth":2,"symbolOpacity":1,"rowPadding":0,"labelOffset":10,"labelExpr":"datum.label+'HC+222LC'"}}
},
"layer":[
{"data":{"name":"errs"},"transform":[{"filter":"datum.panel=='CV'"}],"mark":{"type":"rule","strokeWidth":1},"encoding":{"y":{"field":"lo","type":"quantitative","scale":{"domain":[0,100],"nice":false}},"y2":{"field":"hi"}}},
{"data":{"name":"errs"},"transform":[{"filter":"datum.panel=='CV'"}],"mark":{"type":"tick","orient":"horizontal","size":6,"thickness":1,"opacity":1},"encoding":{"y":{"field":"hi","type":"quantitative","scale":{"domain":[0,100],"nice":false}}}},
{"data":{"name":"errs"},"transform":[{"filter":"datum.panel=='CV'"}],"mark":{"type":"tick","orient":"horizontal","size":6,"thickness":1,"opacity":1},"encoding":{"y":{"field":"lo","type":"quantitative","scale":{"domain":[0,100],"nice":false}}}},
{"data":{"name":"pts"},"transform":[{"filter":"datum.panel=='CV'"}],"mark":{"type":"line","strokeWidth":1.5},"encoding":{}},
{"data":{"name":"pts"},"transform":[{"filter":"datum.panel=='CV'"}],"mark":{"type":"point","filled":true,"size":50,"opacity":1},"encoding":{}}
]},
{"width":145,"height":83,
"encoding":{
"x":{"field":"x","type":"quantitative","scale":{"domain":[-6,1],"nice":false},"axis":{"values":[-6,-5,-4,-3,-2,-1,0,1],"title":"Log10 mAb concentration (ug/ml)"}},
"y":{"field":"y","type":"quantitative","scale":{"domain":[0,100],"nice":false},"axis":{"values":[0,20,40,60,80,100],"title":"%Neutralization"}},
"color":{"field":"mab","type":"nominal","scale":{"domain":["222","150","158","175","269"],"range":["#E0161F","#CD6D2F","#A5A5A5","#F2C01B","#4658C2"]},"legend":null}
},
"layer":[
{"data":{"name":"errs"},"transform":[{"filter":"datum.panel=='CB7'"}],"mark":{"type":"rule","strokeWidth":1},"encoding":{"y":{"field":"lo","type":"quantitative","scale":{"domain":[0,100],"nice":false}},"y2":{"field":"hi"}}},
{"data":{"name":"errs"},"transform":[{"filter":"datum.panel=='CB7'"}],"mark":{"type":"tick","orient":"horizontal","size":6,"thickness":1,"opacity":1},"encoding":{"y":{"field":"hi","type":"quantitative","scale":{"domain":[0,100],"nice":false}}}},
{"data":{"name":"errs"},"transform":[{"filter":"datum.panel=='CB7'"}],"mark":{"type":"tick","orient":"horizontal","size":6,"thickness":1,"opacity":1},"encoding":{"y":{"field":"lo","type":"quantitative","scale":{"domain":[0,100],"nice":false}}}},
{"data":{"name":"pts"},"transform":[{"filter":"datum.panel=='CB7'"}],"mark":{"type":"line","strokeWidth":1.5},"encoding":{}},
{"data":{"name":"pts"},"transform":[{"filter":"datum.panel=='CB7'"}],"mark":{"type":"point","filled":true,"size":50,"opacity":1},"encoding":{}}
]}
]},
{"spacing":41,"resolve":{"scale":{"color":"independent"},"legend":{"color":"independent"}},"vconcat":[
{"width":145,"height":83,
"encoding":{
"x":{"field":"x","type":"quantitative","scale":{"domain":[-6,1],"nice":false},"axis":{"values":[-6,-5,-4,-3,-2,-1,0,1],"title":"Log10 mAb concentration (ug/ml)"}},
"y":{"field":"y","type":"quantitative","scale":{"domain":[0,100],"nice":false},"axis":{"values":[0,20,40,60,80,100],"title":"%Neutralization"}},
"color":{"field":"mab","type":"nominal","scale":{"domain":["222","150","158","175","269"],"range":["#E0161F","#CD6D2F","#A5A5A5","#F2C01B","#4658C2"]},"legend":null}
},
"layer":[
{"data":{"name":"errs"},"transform":[{"filter":"datum.panel=='CB3'"}],"mark":{"type":"rule","strokeWidth":1},"encoding":{"y":{"field":"lo","type":"quantitative","scale":{"domain":[0,100],"nice":false}},"y2":{"field":"hi"}}},
{"data":{"name":"errs"},"transform":[{"filter":"datum.panel=='CB3'"}],"mark":{"type":"tick","orient":"horizontal","size":6,"thickness":1,"opacity":1},"encoding":{"y":{"field":"hi","type":"quantitative","scale":{"domain":[0,100],"nice":false}}}},
{"data":{"name":"errs"},"transform":[{"filter":"datum.panel=='CB3'"}],"mark":{"type":"tick","orient":"horizontal","size":6,"thickness":1,"opacity":1},"encoding":{"y":{"field":"lo","type":"quantitative","scale":{"domain":[0,100],"nice":false}}}},
{"data":{"name":"pts"},"transform":[{"filter":"datum.panel=='CB3'"}],"mark":{"type":"line","strokeWidth":1.5},"encoding":{}},
{"data":{"name":"pts"},"transform":[{"filter":"datum.panel=='CB3'"}],"mark":{"type":"point","filled":true,"size":50,"opacity":1},"encoding":{}}
]},
{"width":145,"height":83,
"encoding":{
"x":{"field":"x","type":"quantitative","scale":{"domain":[-6,1],"nice":false},"axis":{"values":[-6,-5,-4,-3,-2,-1,0,1],"title":"Log10 mAb concentration (ug/ml)"}},
"y":{"field":"y","type":"quantitative","scale":{"domain":[0,100],"nice":false},"axis":{"values":[0,20,40,60,80,100],"title":"%Neutralization"}},
"color":{"field":"mab","type":"nominal","scale":{"domain":["222","150","158","175","269"],"range":["#E0161F","#CD6D2F","#A5A5A5","#F2C01B","#4658C2"]},"legend":null}
},
"layer":[
{"data":{"name":"errs"},"transform":[{"filter":"datum.panel=='CP'"}],"mark":{"type":"rule","strokeWidth":1},"encoding":{"y":{"field":"lo","type":"quantitative","scale":{"domain":[0,100],"nice":false}},"y2":{"field":"hi"}}},
{"data":{"name":"errs"},"transform":[{"filter":"datum.panel=='CP'"}],"mark":{"type":"tick","orient":"horizontal","size":6,"thickness":1,"opacity":1},"encoding":{"y":{"field":"hi","type":"quantitative","scale":{"domain":[0,100],"nice":false}}}},
{"data":{"name":"errs"},"transform":[{"filter":"datum.panel=='CP'"}],"mark":{"type":"tick","orient":"horizontal","size":6,"thickness":1,"opacity":1},"encoding":{"y":{"field":"lo","type":"quantitative","scale":{"domain":[0,100],"nice":false}}}},
{"data":{"name":"pts"},"transform":[{"filter":"datum.panel=='CP'"}],"mark":{"type":"line","strokeWidth":1.5},"encoding":{}},
{"data":{"name":"pts"},"transform":[{"filter":"datum.panel=='CP'"}],"mark":{"type":"point","filled":true,"size":50,"opacity":1},"encoding":{}}
]}
]}
]
}
]
}
